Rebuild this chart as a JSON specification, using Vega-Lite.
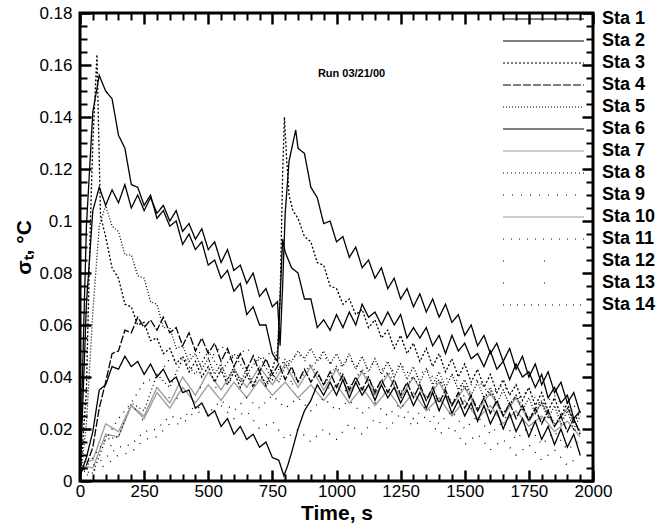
{
"$schema":"https://vega.github.io/schema/vega-lite/v6.json",
"width":513,"height":468,
"autosize":{"type":"none"},
"padding":{"left":80,"top":13,"right":77,"bottom":44},
"data":{"values":[
{"t":0,"s":7,"v":0.006},{"t":50,"s":7,"v":0.005},{"t":100,"s":7,"v":0.018},{"t":150,"s":7,"v":0.017},{"t":200,"s":7,"v":0.029},{"t":250,"s":7,"v":0.025},{"t":300,"s":7,"v":0.036},{"t":350,"s":7,"v":0.030},{"t":400,"s":7,"v":0.040},{"t":450,"s":7,"v":0.033},{"t":500,"s":7,"v":0.042},{"t":550,"s":7,"v":0.035},{"t":600,"s":7,"v":0.043},{"t":650,"s":7,"v":0.036},{"t":700,"s":7,"v":0.044},{"t":750,"s":7,"v":0.037},{"t":800,"s":7,"v":0.045},{"t":850,"s":7,"v":0.036},{"t":900,"s":7,"v":0.044},{"t":950,"s":7,"v":0.035},{"t":1000,"s":7,"v":0.043},{"t":1050,"s":7,"v":0.034},{"t":1100,"s":7,"v":0.042},{"t":1150,"s":7,"v":0.033},{"t":1200,"s":7,"v":0.041},{"t":1250,"s":7,"v":0.032},{"t":1300,"s":7,"v":0.040},{"t":1350,"s":7,"v":0.031},{"t":1400,"s":7,"v":0.038},{"t":1450,"s":7,"v":0.029},{"t":1500,"s":7,"v":0.036},{"t":1550,"s":7,"v":0.027},{"t":1600,"s":7,"v":0.034},{"t":1650,"s":7,"v":0.025},{"t":1700,"s":7,"v":0.032},{"t":1750,"s":7,"v":0.023},{"t":1800,"s":7,"v":0.030},{"t":1850,"s":7,"v":0.021},{"t":1900,"s":7,"v":0.028},{"t":1950,"s":7,"v":0.019},
{"t":0,"s":8,"v":0.004},{"t":50,"s":8,"v":0.003},{"t":100,"s":8,"v":0.016},{"t":150,"s":8,"v":0.017},{"t":200,"s":8,"v":0.030},{"t":250,"s":8,"v":0.027},{"t":300,"s":8,"v":0.041},{"t":350,"s":8,"v":0.036},{"t":400,"s":8,"v":0.047},{"t":450,"s":8,"v":0.041},{"t":500,"s":8,"v":0.050},{"t":550,"s":8,"v":0.042},{"t":600,"s":8,"v":0.049},{"t":650,"s":8,"v":0.041},{"t":700,"s":8,"v":0.048},{"t":750,"s":8,"v":0.039},{"t":800,"s":8,"v":0.047},{"t":850,"s":8,"v":0.038},{"t":900,"s":8,"v":0.045},{"t":950,"s":8,"v":0.037},{"t":1000,"s":8,"v":0.044},{"t":1050,"s":8,"v":0.036},{"t":1100,"s":8,"v":0.043},{"t":1150,"s":8,"v":0.035},{"t":1200,"s":8,"v":0.042},{"t":1250,"s":8,"v":0.034},{"t":1300,"s":8,"v":0.040},{"t":1350,"s":8,"v":0.032},{"t":1400,"s":8,"v":0.039},{"t":1450,"s":8,"v":0.030},{"t":1500,"s":8,"v":0.037},{"t":1550,"s":8,"v":0.028},{"t":1600,"s":8,"v":0.035},{"t":1650,"s":8,"v":0.026},{"t":1700,"s":8,"v":0.033},{"t":1750,"s":8,"v":0.024},{"t":1800,"s":8,"v":0.031},{"t":1850,"s":8,"v":0.022},{"t":1900,"s":8,"v":0.028},{"t":1950,"s":8,"v":0.019},
{"t":0,"s":9,"v":0.000},{"t":50,"s":9,"v":0.004},{"t":100,"s":9,"v":0.006},{"t":150,"s":9,"v":0.010},{"t":200,"s":9,"v":0.011},{"t":250,"s":9,"v":0.016},{"t":300,"s":9,"v":0.017},{"t":350,"s":9,"v":0.022},{"t":400,"s":9,"v":0.022},{"t":450,"s":9,"v":0.027},{"t":500,"s":9,"v":0.025},{"t":550,"s":9,"v":0.029},{"t":600,"s":9,"v":0.024},{"t":650,"s":9,"v":0.027},{"t":700,"s":9,"v":0.020},{"t":750,"s":9,"v":0.023},{"t":800,"s":9,"v":0.016},{"t":850,"s":9,"v":0.020},{"t":900,"s":9,"v":0.015},{"t":950,"s":9,"v":0.020},{"t":1000,"s":9,"v":0.016},{"t":1050,"s":9,"v":0.022},{"t":1100,"s":9,"v":0.018},{"t":1150,"s":9,"v":0.024},{"t":1200,"s":9,"v":0.020},{"t":1250,"s":9,"v":0.026},{"t":1300,"s":9,"v":0.021},{"t":1350,"s":9,"v":0.025},{"t":1400,"s":9,"v":0.018},{"t":1450,"s":9,"v":0.021},{"t":1500,"s":9,"v":0.014},{"t":1550,"s":9,"v":0.018},{"t":1600,"s":9,"v":0.012},{"t":1650,"s":9,"v":0.016},{"t":1700,"s":9,"v":0.010},{"t":1750,"s":9,"v":0.014},{"t":1800,"s":9,"v":0.008},{"t":1850,"s":9,"v":0.012},{"t":1900,"s":9,"v":0.006},{"t":1950,"s":9,"v":0.010},
{"t":0,"s":10,"v":0.007},{"t":50,"s":10,"v":0.008},{"t":100,"s":10,"v":0.022},{"t":150,"s":10,"v":0.019},{"t":200,"s":10,"v":0.029},{"t":250,"s":10,"v":0.024},{"t":300,"s":10,"v":0.034},{"t":350,"s":10,"v":0.028},{"t":400,"s":10,"v":0.036},{"t":450,"s":10,"v":0.030},{"t":500,"s":10,"v":0.037},{"t":550,"s":10,"v":0.031},{"t":600,"s":10,"v":0.038},{"t":650,"s":10,"v":0.032},{"t":700,"s":10,"v":0.039},{"t":750,"s":10,"v":0.033},{"t":800,"s":10,"v":0.038},{"t":850,"s":10,"v":0.032},{"t":900,"s":10,"v":0.037},{"t":950,"s":10,"v":0.031},{"t":1000,"s":10,"v":0.037},{"t":1050,"s":10,"v":0.030},{"t":1100,"s":10,"v":0.036},{"t":1150,"s":10,"v":0.029},{"t":1200,"s":10,"v":0.035},{"t":1250,"s":10,"v":0.028},{"t":1300,"s":10,"v":0.034},{"t":1350,"s":10,"v":0.027},{"t":1400,"s":10,"v":0.032},{"t":1450,"s":10,"v":0.025},{"t":1500,"s":10,"v":0.031},{"t":1550,"s":10,"v":0.024},{"t":1600,"s":10,"v":0.029},{"t":1650,"s":10,"v":0.022},{"t":1700,"s":10,"v":0.027},{"t":1750,"s":10,"v":0.021},{"t":1800,"s":10,"v":0.025},{"t":1850,"s":10,"v":0.019},{"t":1900,"s":10,"v":0.023},{"t":1950,"s":10,"v":0.017},
{"t":0,"s":11,"v":0.003},{"t":50,"s":11,"v":0.006},{"t":100,"s":11,"v":0.009},{"t":150,"s":11,"v":0.013},{"t":200,"s":11,"v":0.014},{"t":250,"s":11,"v":0.019},{"t":300,"s":11,"v":0.020},{"t":350,"s":11,"v":0.025},{"t":400,"s":11,"v":0.024},{"t":450,"s":11,"v":0.029},{"t":500,"s":11,"v":0.026},{"t":550,"s":11,"v":0.031},{"t":600,"s":11,"v":0.027},{"t":650,"s":11,"v":0.032},{"t":700,"s":11,"v":0.028},{"t":750,"s":11,"v":0.033},{"t":800,"s":11,"v":0.028},{"t":850,"s":11,"v":0.032},{"t":900,"s":11,"v":0.027},{"t":950,"s":11,"v":0.032},{"t":1000,"s":11,"v":0.027},{"t":1050,"s":11,"v":0.031},{"t":1100,"s":11,"v":0.026},{"t":1150,"s":11,"v":0.030},{"t":1200,"s":11,"v":0.025},{"t":1250,"s":11,"v":0.030},{"t":1300,"s":11,"v":0.024},{"t":1350,"s":11,"v":0.029},{"t":1400,"s":11,"v":0.022},{"t":1450,"s":11,"v":0.027},{"t":1500,"s":11,"v":0.020},{"t":1550,"s":11,"v":0.025},{"t":1600,"s":11,"v":0.018},{"t":1650,"s":11,"v":0.023},{"t":1700,"s":11,"v":0.016},{"t":1750,"s":11,"v":0.021},{"t":1800,"s":11,"v":0.014},{"t":1850,"s":11,"v":0.019},{"t":1900,"s":11,"v":0.012},{"t":1950,"s":11,"v":0.016},
{"t":0,"s":12,"v":0.005},{"t":50,"s":12,"v":0.009},{"t":100,"s":12,"v":0.017},{"t":150,"s":12,"v":0.020},{"t":200,"s":12,"v":0.027},{"t":250,"s":12,"v":0.029},{"t":300,"s":12,"v":0.034},{"t":350,"s":12,"v":0.032},{"t":400,"s":12,"v":0.037},{"t":450,"s":12,"v":0.034},{"t":500,"s":12,"v":0.039},{"t":550,"s":12,"v":0.035},{"t":600,"s":12,"v":0.040},{"t":650,"s":12,"v":0.036},{"t":700,"s":12,"v":0.040},{"t":750,"s":12,"v":0.036},{"t":800,"s":12,"v":0.041},{"t":850,"s":12,"v":0.035},{"t":900,"s":12,"v":0.040},{"t":950,"s":12,"v":0.034},{"t":1000,"s":12,"v":0.039},{"t":1050,"s":12,"v":0.033},{"t":1100,"s":12,"v":0.038},{"t":1150,"s":12,"v":0.033},{"t":1200,"s":12,"v":0.037},{"t":1250,"s":12,"v":0.032},{"t":1300,"s":12,"v":0.036},{"t":1350,"s":12,"v":0.031},{"t":1400,"s":12,"v":0.035},{"t":1450,"s":12,"v":0.029},{"t":1500,"s":12,"v":0.033},{"t":1550,"s":12,"v":0.028},{"t":1600,"s":12,"v":0.031},{"t":1650,"s":12,"v":0.026},{"t":1700,"s":12,"v":0.029},{"t":1750,"s":12,"v":0.024},{"t":1800,"s":12,"v":0.027},{"t":1850,"s":12,"v":0.022},{"t":1900,"s":12,"v":0.025},{"t":1950,"s":12,"v":0.020},
{"t":0,"s":13,"v":0.003},{"t":50,"s":13,"v":0.007},{"t":100,"s":13,"v":0.012},{"t":150,"s":13,"v":0.016},{"t":200,"s":13,"v":0.021},{"t":250,"s":13,"v":0.024},{"t":300,"s":13,"v":0.028},{"t":350,"s":13,"v":0.030},{"t":400,"s":13,"v":0.033},{"t":450,"s":13,"v":0.034},{"t":500,"s":13,"v":0.036},{"t":550,"s":13,"v":0.036},{"t":600,"s":13,"v":0.038},{"t":650,"s":13,"v":0.037},{"t":700,"s":13,"v":0.039},{"t":750,"s":13,"v":0.037},{"t":800,"s":13,"v":0.039},{"t":850,"s":13,"v":0.036},{"t":900,"s":13,"v":0.038},{"t":950,"s":13,"v":0.035},{"t":1000,"s":13,"v":0.037},{"t":1050,"s":13,"v":0.034},{"t":1100,"s":13,"v":0.036},{"t":1150,"s":13,"v":0.033},{"t":1200,"s":13,"v":0.035},{"t":1250,"s":13,"v":0.032},{"t":1300,"s":13,"v":0.034},{"t":1350,"s":13,"v":0.030},{"t":1400,"s":13,"v":0.032},{"t":1450,"s":13,"v":0.028},{"t":1500,"s":13,"v":0.030},{"t":1550,"s":13,"v":0.026},{"t":1600,"s":13,"v":0.028},{"t":1650,"s":13,"v":0.024},{"t":1700,"s":13,"v":0.026},{"t":1750,"s":13,"v":0.022},{"t":1800,"s":13,"v":0.024},{"t":1850,"s":13,"v":0.020},{"t":1900,"s":13,"v":0.022},{"t":1950,"s":13,"v":0.018},
{"t":0,"s":14,"v":0.002},{"t":50,"s":14,"v":0.009},{"t":100,"s":14,"v":0.016},{"t":150,"s":14,"v":0.024},{"t":200,"s":14,"v":0.030},{"t":250,"s":14,"v":0.038},{"t":300,"s":14,"v":0.040},{"t":350,"s":14,"v":0.047},{"t":400,"s":14,"v":0.045},{"t":450,"s":14,"v":0.051},{"t":500,"s":14,"v":0.046},{"t":550,"s":14,"v":0.052},{"t":600,"s":14,"v":0.047},{"t":650,"s":14,"v":0.051},{"t":700,"s":14,"v":0.046},{"t":750,"s":14,"v":0.050},{"t":800,"s":14,"v":0.045},{"t":850,"s":14,"v":0.049},{"t":900,"s":14,"v":0.044},{"t":950,"s":14,"v":0.048},{"t":1000,"s":14,"v":0.043},{"t":1050,"s":14,"v":0.047},{"t":1100,"s":14,"v":0.042},{"t":1150,"s":14,"v":0.046},{"t":1200,"s":14,"v":0.041},{"t":1250,"s":14,"v":0.045},{"t":1300,"s":14,"v":0.039},{"t":1350,"s":14,"v":0.043},{"t":1400,"s":14,"v":0.037},{"t":1450,"s":14,"v":0.041},{"t":1500,"s":14,"v":0.035},{"t":1550,"s":14,"v":0.039},{"t":1600,"s":14,"v":0.033},{"t":1650,"s":14,"v":0.037},{"t":1700,"s":14,"v":0.031},{"t":1750,"s":14,"v":0.035},{"t":1800,"s":14,"v":0.029},{"t":1850,"s":14,"v":0.033},{"t":1900,"s":14,"v":0.027},{"t":1950,"s":14,"v":0.030},
{"t":0,"s":6,"v":0.002},{"t":25,"s":6,"v":0.009},{"t":50,"s":6,"v":0.019},{"t":75,"s":6,"v":0.035},{"t":100,"s":6,"v":0.037},{"t":125,"s":6,"v":0.044},{"t":150,"s":6,"v":0.043},{"t":175,"s":6,"v":0.048},{"t":200,"s":6,"v":0.044},{"t":225,"s":6,"v":0.046},{"t":250,"s":6,"v":0.041},{"t":275,"s":6,"v":0.045},{"t":300,"s":6,"v":0.040},{"t":325,"s":6,"v":0.043},{"t":350,"s":6,"v":0.038},{"t":375,"s":6,"v":0.040},{"t":400,"s":6,"v":0.034},{"t":425,"s":6,"v":0.035},{"t":450,"s":6,"v":0.028},{"t":475,"s":6,"v":0.030},{"t":500,"s":6,"v":0.025},{"t":525,"s":6,"v":0.027},{"t":550,"s":6,"v":0.021},{"t":575,"s":6,"v":0.024},{"t":600,"s":6,"v":0.018},{"t":625,"s":6,"v":0.021},{"t":650,"s":6,"v":0.016},{"t":675,"s":6,"v":0.018},{"t":700,"s":6,"v":0.013},{"t":725,"s":6,"v":0.015},{"t":750,"s":6,"v":0.009},{"t":775,"s":6,"v":0.008},{"t":795,"s":6,"v":0.002},{"t":810,"s":6,"v":0.006},{"t":825,"s":6,"v":0.011},{"t":850,"s":6,"v":0.020},{"t":875,"s":6,"v":0.027},{"t":900,"s":6,"v":0.031},{"t":925,"s":6,"v":0.037},{"t":950,"s":6,"v":0.033},{"t":975,"s":6,"v":0.038},{"t":1000,"s":6,"v":0.033},{"t":1025,"s":6,"v":0.039},{"t":1050,"s":6,"v":0.032},{"t":1075,"s":6,"v":0.038},{"t":1100,"s":6,"v":0.033},{"t":1125,"s":6,"v":0.037},{"t":1150,"s":6,"v":0.031},{"t":1175,"s":6,"v":0.037},{"t":1200,"s":6,"v":0.032},{"t":1225,"s":6,"v":0.036},{"t":1250,"s":6,"v":0.030},{"t":1275,"s":6,"v":0.035},{"t":1300,"s":6,"v":0.029},{"t":1325,"s":6,"v":0.034},{"t":1350,"s":6,"v":0.028},{"t":1375,"s":6,"v":0.034},{"t":1400,"s":6,"v":0.027},{"t":1425,"s":6,"v":0.033},{"t":1450,"s":6,"v":0.026},{"t":1475,"s":6,"v":0.031},{"t":1500,"s":6,"v":0.025},{"t":1525,"s":6,"v":0.030},{"t":1550,"s":6,"v":0.023},{"t":1575,"s":6,"v":0.029},{"t":1600,"s":6,"v":0.022},{"t":1625,"s":6,"v":0.027},{"t":1650,"s":6,"v":0.020},{"t":1675,"s":6,"v":0.026},{"t":1700,"s":6,"v":0.019},{"t":1725,"s":6,"v":0.024},{"t":1750,"s":6,"v":0.017},{"t":1775,"s":6,"v":0.023},{"t":1800,"s":6,"v":0.016},{"t":1825,"s":6,"v":0.021},{"t":1850,"s":6,"v":0.014},{"t":1875,"s":6,"v":0.020},{"t":1900,"s":6,"v":0.013},{"t":1925,"s":6,"v":0.018},{"t":1950,"s":6,"v":0.010},
{"t":0,"s":5,"v":0.000},{"t":25,"s":5,"v":0.022},{"t":50,"s":5,"v":0.065},{"t":75,"s":5,"v":0.098},{"t":100,"s":5,"v":0.106},{"t":125,"s":5,"v":0.098},{"t":150,"s":5,"v":0.096},{"t":175,"s":5,"v":0.087},{"t":200,"s":5,"v":0.087},{"t":225,"s":5,"v":0.079},{"t":250,"s":5,"v":0.078},{"t":275,"s":5,"v":0.069},{"t":300,"s":5,"v":0.068},{"t":325,"s":5,"v":0.059},{"t":350,"s":5,"v":0.059},{"t":375,"s":5,"v":0.051},{"t":400,"s":5,"v":0.052},{"t":425,"s":5,"v":0.046},{"t":450,"s":5,"v":0.049},{"t":475,"s":5,"v":0.043},{"t":500,"s":5,"v":0.047},{"t":525,"s":5,"v":0.041},{"t":550,"s":5,"v":0.045},{"t":575,"s":5,"v":0.039},{"t":600,"s":5,"v":0.044},{"t":625,"s":5,"v":0.038},{"t":650,"s":5,"v":0.043},{"t":675,"s":5,"v":0.037},{"t":700,"s":5,"v":0.042},{"t":725,"s":5,"v":0.036},{"t":750,"s":5,"v":0.041},{"t":775,"s":5,"v":0.038},{"t":800,"s":5,"v":0.044},{"t":825,"s":5,"v":0.046},{"t":850,"s":5,"v":0.050},{"t":875,"s":5,"v":0.047},{"t":900,"s":5,"v":0.051},{"t":925,"s":5,"v":0.046},{"t":950,"s":5,"v":0.050},{"t":975,"s":5,"v":0.045},{"t":1000,"s":5,"v":0.049},{"t":1025,"s":5,"v":0.044},{"t":1050,"s":5,"v":0.049},{"t":1075,"s":5,"v":0.043},{"t":1100,"s":5,"v":0.048},{"t":1125,"s":5,"v":0.042},{"t":1150,"s":5,"v":0.047},{"t":1175,"s":5,"v":0.041},{"t":1200,"s":5,"v":0.046},{"t":1225,"s":5,"v":0.040},{"t":1250,"s":5,"v":0.045},{"t":1275,"s":5,"v":0.039},{"t":1300,"s":5,"v":0.044},{"t":1325,"s":5,"v":0.038},{"t":1350,"s":5,"v":0.043},{"t":1375,"s":5,"v":0.037},{"t":1400,"s":5,"v":0.042},{"t":1425,"s":5,"v":0.036},{"t":1450,"s":5,"v":0.041},{"t":1475,"s":5,"v":0.035},{"t":1500,"s":5,"v":0.039},{"t":1525,"s":5,"v":0.033},{"t":1550,"s":5,"v":0.038},{"t":1575,"s":5,"v":0.032},{"t":1600,"s":5,"v":0.036},{"t":1625,"s":5,"v":0.030},{"t":1650,"s":5,"v":0.035},{"t":1675,"s":5,"v":0.029},{"t":1700,"s":5,"v":0.033},{"t":1725,"s":5,"v":0.027},{"t":1750,"s":5,"v":0.032},{"t":1775,"s":5,"v":0.026},{"t":1800,"s":5,"v":0.030},{"t":1825,"s":5,"v":0.024},{"t":1850,"s":5,"v":0.029},{"t":1875,"s":5,"v":0.022},{"t":1900,"s":5,"v":0.027},{"t":1925,"s":5,"v":0.020},{"t":1950,"s":5,"v":0.025},
{"t":0,"s":4,"v":0.003},{"t":25,"s":4,"v":0.006},{"t":50,"s":4,"v":0.013},{"t":75,"s":4,"v":0.028},{"t":100,"s":4,"v":0.038},{"t":125,"s":4,"v":0.049},{"t":150,"s":4,"v":0.050},{"t":175,"s":4,"v":0.058},{"t":200,"s":4,"v":0.057},{"t":225,"s":4,"v":0.063},{"t":250,"s":4,"v":0.059},{"t":275,"s":4,"v":0.062},{"t":300,"s":4,"v":0.058},{"t":325,"s":4,"v":0.063},{"t":350,"s":4,"v":0.057},{"t":375,"s":4,"v":0.059},{"t":400,"s":4,"v":0.052},{"t":425,"s":4,"v":0.057},{"t":450,"s":4,"v":0.050},{"t":475,"s":4,"v":0.055},{"t":500,"s":4,"v":0.049},{"t":525,"s":4,"v":0.053},{"t":550,"s":4,"v":0.046},{"t":575,"s":4,"v":0.051},{"t":600,"s":4,"v":0.044},{"t":625,"s":4,"v":0.049},{"t":650,"s":4,"v":0.043},{"t":675,"s":4,"v":0.048},{"t":700,"s":4,"v":0.042},{"t":725,"s":4,"v":0.047},{"t":750,"s":4,"v":0.041},{"t":775,"s":4,"v":0.045},{"t":800,"s":4,"v":0.039},{"t":825,"s":4,"v":0.044},{"t":850,"s":4,"v":0.038},{"t":875,"s":4,"v":0.043},{"t":900,"s":4,"v":0.038},{"t":925,"s":4,"v":0.042},{"t":950,"s":4,"v":0.037},{"t":975,"s":4,"v":0.042},{"t":1000,"s":4,"v":0.036},{"t":1025,"s":4,"v":0.041},{"t":1050,"s":4,"v":0.035},{"t":1075,"s":4,"v":0.040},{"t":1100,"s":4,"v":0.035},{"t":1125,"s":4,"v":0.040},{"t":1150,"s":4,"v":0.034},{"t":1175,"s":4,"v":0.039},{"t":1200,"s":4,"v":0.034},{"t":1225,"s":4,"v":0.039},{"t":1250,"s":4,"v":0.033},{"t":1275,"s":4,"v":0.038},{"t":1300,"s":4,"v":0.032},{"t":1325,"s":4,"v":0.037},{"t":1350,"s":4,"v":0.031},{"t":1375,"s":4,"v":0.036},{"t":1400,"s":4,"v":0.030},{"t":1425,"s":4,"v":0.035},{"t":1450,"s":4,"v":0.029},{"t":1475,"s":4,"v":0.034},{"t":1500,"s":4,"v":0.028},{"t":1525,"s":4,"v":0.033},{"t":1550,"s":4,"v":0.027},{"t":1575,"s":4,"v":0.032},{"t":1600,"s":4,"v":0.026},{"t":1625,"s":4,"v":0.031},{"t":1650,"s":4,"v":0.025},{"t":1675,"s":4,"v":0.030},{"t":1700,"s":4,"v":0.024},{"t":1725,"s":4,"v":0.029},{"t":1750,"s":4,"v":0.023},{"t":1775,"s":4,"v":0.028},{"t":1800,"s":4,"v":0.022},{"t":1825,"s":4,"v":0.027},{"t":1850,"s":4,"v":0.021},{"t":1875,"s":4,"v":0.025},{"t":1900,"s":4,"v":0.019},{"t":1925,"s":4,"v":0.024},{"t":1950,"s":4,"v":0.018},
{"t":0,"s":3,"v":0.000},{"t":25,"s":3,"v":0.035},{"t":40,"s":3,"v":0.098},{"t":50,"s":3,"v":0.130},{"t":66,"s":3,"v":0.164},{"t":80,"s":3,"v":0.102},{"t":100,"s":3,"v":0.094},{"t":125,"s":3,"v":0.082},{"t":150,"s":3,"v":0.078},{"t":175,"s":3,"v":0.068},{"t":200,"s":3,"v":0.067},{"t":225,"s":3,"v":0.060},{"t":250,"s":3,"v":0.061},{"t":275,"s":3,"v":0.054},{"t":300,"s":3,"v":0.055},{"t":325,"s":3,"v":0.049},{"t":350,"s":3,"v":0.051},{"t":375,"s":3,"v":0.045},{"t":400,"s":3,"v":0.048},{"t":425,"s":3,"v":0.042},{"t":450,"s":3,"v":0.046},{"t":475,"s":3,"v":0.040},{"t":500,"s":3,"v":0.044},{"t":525,"s":3,"v":0.038},{"t":550,"s":3,"v":0.043},{"t":575,"s":3,"v":0.037},{"t":600,"s":3,"v":0.042},{"t":625,"s":3,"v":0.036},{"t":650,"s":3,"v":0.041},{"t":675,"s":3,"v":0.036},{"t":700,"s":3,"v":0.042},{"t":725,"s":3,"v":0.037},{"t":750,"s":3,"v":0.043},{"t":770,"s":3,"v":0.050},{"t":780,"s":3,"v":0.070},{"t":790,"s":3,"v":0.118},{"t":797,"s":3,"v":0.140},{"t":805,"s":3,"v":0.125},{"t":815,"s":3,"v":0.110},{"t":830,"s":3,"v":0.104},{"t":850,"s":3,"v":0.101},{"t":875,"s":3,"v":0.094},{"t":900,"s":3,"v":0.092},{"t":925,"s":3,"v":0.084},{"t":950,"s":3,"v":0.083},{"t":975,"s":3,"v":0.075},{"t":1000,"s":3,"v":0.074},{"t":1025,"s":3,"v":0.068},{"t":1050,"s":3,"v":0.070},{"t":1075,"s":3,"v":0.064},{"t":1100,"s":3,"v":0.066},{"t":1125,"s":3,"v":0.059},{"t":1150,"s":3,"v":0.062},{"t":1175,"s":3,"v":0.055},{"t":1200,"s":3,"v":0.058},{"t":1225,"s":3,"v":0.051},{"t":1250,"s":3,"v":0.056},{"t":1275,"s":3,"v":0.049},{"t":1300,"s":3,"v":0.053},{"t":1325,"s":3,"v":0.046},{"t":1350,"s":3,"v":0.051},{"t":1375,"s":3,"v":0.044},{"t":1400,"s":3,"v":0.049},{"t":1425,"s":3,"v":0.042},{"t":1450,"s":3,"v":0.047},{"t":1475,"s":3,"v":0.040},{"t":1500,"s":3,"v":0.045},{"t":1525,"s":3,"v":0.038},{"t":1550,"s":3,"v":0.043},{"t":1575,"s":3,"v":0.036},{"t":1600,"s":3,"v":0.041},{"t":1625,"s":3,"v":0.034},{"t":1650,"s":3,"v":0.039},{"t":1675,"s":3,"v":0.033},{"t":1700,"s":3,"v":0.037},{"t":1725,"s":3,"v":0.031},{"t":1750,"s":3,"v":0.036},{"t":1775,"s":3,"v":0.029},{"t":1800,"s":3,"v":0.034},{"t":1825,"s":3,"v":0.027},{"t":1850,"s":3,"v":0.032},{"t":1875,"s":3,"v":0.025},{"t":1900,"s":3,"v":0.030},{"t":1925,"s":3,"v":0.022},{"t":1950,"s":3,"v":0.027},
{"t":0,"s":2,"v":0.000},{"t":25,"s":2,"v":0.068},{"t":50,"s":2,"v":0.104},{"t":75,"s":2,"v":0.113},{"t":100,"s":2,"v":0.106},{"t":125,"s":2,"v":0.112},{"t":150,"s":2,"v":0.107},{"t":175,"s":2,"v":0.114},{"t":200,"s":2,"v":0.105},{"t":225,"s":2,"v":0.110},{"t":250,"s":2,"v":0.104},{"t":275,"s":2,"v":0.109},{"t":300,"s":2,"v":0.103},{"t":325,"s":2,"v":0.106},{"t":350,"s":2,"v":0.100},{"t":375,"s":2,"v":0.104},{"t":400,"s":2,"v":0.096},{"t":425,"s":2,"v":0.099},{"t":450,"s":2,"v":0.093},{"t":475,"s":2,"v":0.097},{"t":500,"s":2,"v":0.089},{"t":525,"s":2,"v":0.092},{"t":550,"s":2,"v":0.084},{"t":575,"s":2,"v":0.089},{"t":600,"s":2,"v":0.081},{"t":625,"s":2,"v":0.083},{"t":650,"s":2,"v":0.076},{"t":675,"s":2,"v":0.080},{"t":700,"s":2,"v":0.071},{"t":725,"s":2,"v":0.074},{"t":750,"s":2,"v":0.067},{"t":770,"s":2,"v":0.069},{"t":780,"s":2,"v":0.052},{"t":790,"s":2,"v":0.075},{"t":800,"s":2,"v":0.103},{"t":815,"s":2,"v":0.123},{"t":830,"s":2,"v":0.130},{"t":841,"s":2,"v":0.135},{"t":850,"s":2,"v":0.128},{"t":875,"s":2,"v":0.126},{"t":900,"s":2,"v":0.113},{"t":925,"s":2,"v":0.109},{"t":950,"s":2,"v":0.099},{"t":975,"s":2,"v":0.100},{"t":1000,"s":2,"v":0.092},{"t":1025,"s":2,"v":0.094},{"t":1050,"s":2,"v":0.086},{"t":1075,"s":2,"v":0.090},{"t":1100,"s":2,"v":0.082},{"t":1125,"s":2,"v":0.085},{"t":1150,"s":2,"v":0.078},{"t":1175,"s":2,"v":0.082},{"t":1200,"s":2,"v":0.074},{"t":1225,"s":2,"v":0.078},{"t":1250,"s":2,"v":0.070},{"t":1275,"s":2,"v":0.074},{"t":1300,"s":2,"v":0.067},{"t":1325,"s":2,"v":0.072},{"t":1350,"s":2,"v":0.065},{"t":1375,"s":2,"v":0.070},{"t":1400,"s":2,"v":0.063},{"t":1425,"s":2,"v":0.068},{"t":1450,"s":2,"v":0.061},{"t":1475,"s":2,"v":0.064},{"t":1500,"s":2,"v":0.056},{"t":1525,"s":2,"v":0.060},{"t":1550,"s":2,"v":0.052},{"t":1575,"s":2,"v":0.056},{"t":1600,"s":2,"v":0.049},{"t":1625,"s":2,"v":0.053},{"t":1650,"s":2,"v":0.046},{"t":1675,"s":2,"v":0.051},{"t":1700,"s":2,"v":0.043},{"t":1725,"s":2,"v":0.048},{"t":1750,"s":2,"v":0.040},{"t":1775,"s":2,"v":0.045},{"t":1800,"s":2,"v":0.037},{"t":1825,"s":2,"v":0.042},{"t":1850,"s":2,"v":0.034},{"t":1875,"s":2,"v":0.038},{"t":1900,"s":2,"v":0.030},{"t":1925,"s":2,"v":0.034},{"t":1950,"s":2,"v":0.026},
{"t":0,"s":1,"v":0.001},{"t":12,"s":1,"v":0.050},{"t":25,"s":1,"v":0.098},{"t":50,"s":1,"v":0.142},{"t":75,"s":1,"v":0.156},{"t":100,"s":1,"v":0.150},{"t":125,"s":1,"v":0.147},{"t":150,"s":1,"v":0.133},{"t":175,"s":1,"v":0.128},{"t":200,"s":1,"v":0.114},{"t":225,"s":1,"v":0.113},{"t":250,"s":1,"v":0.106},{"t":275,"s":1,"v":0.110},{"t":300,"s":1,"v":0.101},{"t":325,"s":1,"v":0.104},{"t":350,"s":1,"v":0.098},{"t":375,"s":1,"v":0.100},{"t":400,"s":1,"v":0.091},{"t":425,"s":1,"v":0.095},{"t":450,"s":1,"v":0.089},{"t":475,"s":1,"v":0.092},{"t":500,"s":1,"v":0.083},{"t":525,"s":1,"v":0.085},{"t":550,"s":1,"v":0.078},{"t":575,"s":1,"v":0.081},{"t":600,"s":1,"v":0.073},{"t":625,"s":1,"v":0.076},{"t":650,"s":1,"v":0.064},{"t":675,"s":1,"v":0.067},{"t":700,"s":1,"v":0.060},{"t":725,"s":1,"v":0.060},{"t":750,"s":1,"v":0.049},{"t":770,"s":1,"v":0.046},{"t":780,"s":1,"v":0.070},{"t":790,"s":1,"v":0.093},{"t":800,"s":1,"v":0.088},{"t":825,"s":1,"v":0.082},{"t":850,"s":1,"v":0.080},{"t":875,"s":1,"v":0.070},{"t":900,"s":1,"v":0.070},{"t":925,"s":1,"v":0.059},{"t":950,"s":1,"v":0.062},{"t":975,"s":1,"v":0.058},{"t":1000,"s":1,"v":0.064},{"t":1025,"s":1,"v":0.059},{"t":1050,"s":1,"v":0.065},{"t":1075,"s":1,"v":0.060},{"t":1100,"s":1,"v":0.068},{"t":1125,"s":1,"v":0.063},{"t":1150,"s":1,"v":0.065},{"t":1175,"s":1,"v":0.060},{"t":1200,"s":1,"v":0.065},{"t":1225,"s":1,"v":0.060},{"t":1250,"s":1,"v":0.064},{"t":1275,"s":1,"v":0.055},{"t":1300,"s":1,"v":0.059},{"t":1325,"s":1,"v":0.055},{"t":1350,"s":1,"v":0.059},{"t":1375,"s":1,"v":0.052},{"t":1400,"s":1,"v":0.056},{"t":1425,"s":1,"v":0.049},{"t":1450,"s":1,"v":0.056},{"t":1475,"s":1,"v":0.050},{"t":1500,"s":1,"v":0.053},{"t":1525,"s":1,"v":0.047},{"t":1550,"s":1,"v":0.049},{"t":1575,"s":1,"v":0.044},{"t":1600,"s":1,"v":0.050},{"t":1625,"s":1,"v":0.043},{"t":1650,"s":1,"v":0.046},{"t":1675,"s":1,"v":0.039},{"t":1700,"s":1,"v":0.045},{"t":1725,"s":1,"v":0.040},{"t":1750,"s":1,"v":0.042},{"t":1775,"s":1,"v":0.036},{"t":1800,"s":1,"v":0.041},{"t":1825,"s":1,"v":0.032},{"t":1850,"s":1,"v":0.036},{"t":1875,"s":1,"v":0.030},{"t":1900,"s":1,"v":0.033},{"t":1925,"s":1,"v":0.024},{"t":1950,"s":1,"v":0.027}
]},
"layer":[
{"mark":{"type":"line","strokeWidth":1.3},
 "encoding":{
  "x":{"field":"t","type":"quantitative","scale":{"domain":[0,2000],"nice":false,"zero":false},
   "axis":{"orient":"bottom","zindex":2,"values":[0,250,500,750,1000,1250,1500,1750,2000],"format":"d","ticks":true,"tickColor":"#000000","tickOpacity":1,"tickSize":-11,"tickWidth":2.5,"labelPadding":13,"labelFlush":false,"labelFont":"Liberation Sans","labelFontSize":17,"labelColor":"black","title":"Time, s","titlePadding":3,"titleFont":"Liberation Sans","titleFontSize":21,"titleFontWeight":"bold","titleColor":"black"}},
  "y":{"field":"v","type":"quantitative","scale":{"domain":[0,0.18],"nice":false},
   "axis":{"orient":"left","zindex":2,"values":[0,0.02,0.04,0.06,0.08,0.1,0.12,0.14,0.16,0.18],"format":"~g","ticks":true,"tickColor":"#000000","tickOpacity":1,"tickSize":-11,"tickWidth":2.5,"labelPadding":19,"labelFlush":false,"labelFont":"Liberation Sans","labelFontSize":17,"labelColor":"black","title":"σₜ, °C","titlePadding":4,"titleFont":"Liberation Sans","titleFontSize":21,"titleFontWeight":"bold","titleColor":"black"}},
  "color":{"field":"s","type":"nominal","title":null,
   "scale":{"domain":[1,2,3,4,5,6,7,8,9,10,11,12,13,14],"range":["black","black","black","black","black","black","#9a9a9a","black","black","#9a9a9a","black","black","black","black"]},
   "legend":{"orient":"none","legendX":422,"legendY":-5,"labelExpr":"'Sta ' + datum.label"}},
  "strokeDash":{"field":"s","type":"nominal","title":null,
   "scale":{"domain":[1,2,3,4,5,6,7,8,9,10,11,12,13,14],"range":[[1,0],[1,0],[2,2],[8,2],[1,2],[1,0],[1,0],[1,3],[1,8],[1,0],[1,7],[1,40],[1,40],[1,6]]},
   "legend":{"orient":"none","legendX":422,"legendY":-5,"labelExpr":"'Sta ' + datum.label"}}
 }},
{"transform":[{"filter":"false"}],
 "mark":{"type":"point"},
 "encoding":{
  "x":{"field":"t","type":"quantitative",
   "axis":{"orient":"bottom","zindex":2,"values":[50,100,150,200,300,350,400,450,550,600,650,700,800,850,900,950,1050,1100,1150,1200,1300,1350,1400,1450,1550,1600,1650,1700,1800,1850,1900,1950],"labels":false,"title":null,"ticks":true,"tickColor":"#000000","tickOpacity":1,"tickSize":-7,"tickWidth":2}},
  "y":{"field":"v","type":"quantitative",
   "axis":{"orient":"left","zindex":2,"values":[0.005,0.01,0.015,0.025,0.03,0.035,0.045,0.05,0.055,0.065,0.07,0.075,0.085,0.09,0.095,0.105,0.11,0.115,0.125,0.13,0.135,0.145,0.15,0.155,0.165,0.17,0.175],"labels":false,"title":null,"ticks":true,"tickColor":"#000000","tickOpacity":1,"tickSize":-7,"tickWidth":2}}
 }},
{"transform":[{"filter":"false"}],
 "mark":{"type":"point"},
 "encoding":{
  "x":{"field":"t","type":"quantitative",
   "axis":{"orient":"top","zindex":2,"values":[0,250,500,750,1000,1250,1500,1750,2000],"labels":false,"ticks":true,"tickColor":"#000000","tickOpacity":1,"tickSize":-11,"tickWidth":2.5,"title":"Run 03/21/00","titleX":271,"titleY":60,"titleAlign":"center","titleBaseline":"middle","titleFontSize":11,"titleFont":"Liberation Sans","titleFontWeight":"bold","titleColor":"black"}},
  "y":{"field":"v","type":"quantitative",
   "axis":{"orient":"right","zindex":2,"values":[0,0.02,0.04,0.06,0.08,0.1,0.12,0.14,0.16,0.18],"labels":false,"title":null,"ticks":true,"tickColor":"#000000","tickOpacity":1,"tickSize":-11,"tickWidth":2.5}}
 }},
{"transform":[{"filter":"false"}],
 "mark":{"type":"point"},
 "encoding":{
  "x":{"field":"t","type":"quantitative",
   "axis":{"orient":"top","zindex":2,"values":[50,100,150,200,300,350,400,450,550,600,650,700,800,850,900,950,1050,1100,1150,1200,1300,1350,1400,1450,1550,1600,1650,1700,1800,1850,1900,1950],"labels":false,"title":null,"ticks":true,"tickColor":"#000000","tickOpacity":1,"tickSize":-7,"tickWidth":2}},
  "y":{"field":"v","type":"quantitative",
   "axis":{"orient":"right","zindex":2,"values":[0.005,0.01,0.015,0.025,0.03,0.035,0.045,0.05,0.055,0.065,0.07,0.075,0.085,0.09,0.095,0.105,0.11,0.115,0.125,0.13,0.135,0.145,0.15,0.155,0.165,0.17,0.175],"labels":false,"title":null,"ticks":true,"tickColor":"#000000","tickOpacity":1,"tickSize":-7,"tickWidth":2}}
 }}
],
"resolve":{"axis":{"x":"independent","y":"independent"}},
"config":{
 "view":{"stroke":"black","strokeWidth":3},
 "axis":{"domain":false,"grid":false},
 "legend":{"symbolType":"stroke","symbolSize":6561,"symbolStrokeWidth":1.2,"labelFont":"Liberation Sans","labelFontSize":18,"labelFontWeight":"bold","labelColor":"black","labelOffset":17,"clipHeight":22,"rowPadding":0,"padding":0,"labelLimit":0}
}
}
